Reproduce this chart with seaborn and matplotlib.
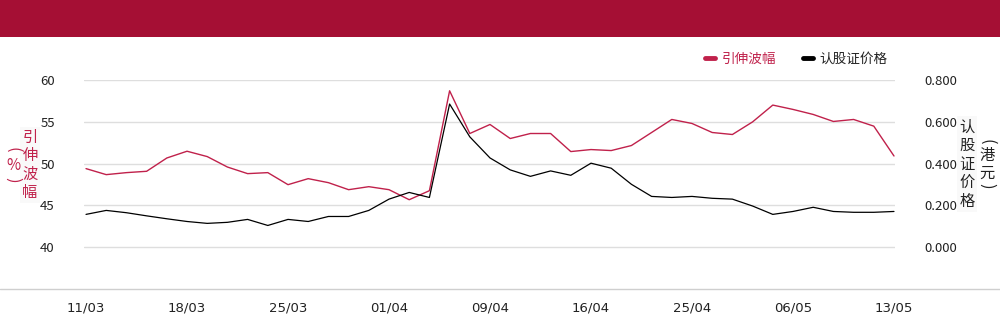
import matplotlib
matplotlib.use("Agg")
import matplotlib.pyplot as plt
from matplotlib.lines import Line2D
from matplotlib.patches import Rectangle
import seaborn as sns
import pandas as pd

# ---- data ----
tick_labels = ["11/03", "18/03", "25/03", "01/04", "09/04", "16/04", "25/04", "06/05", "13/05"]
implied_vol = [49.40, 48.68, 48.92, 49.08, 50.67, 51.48, 50.84, 49.59, 48.80, 48.92,
               47.48, 48.20, 47.72, 46.88, 47.24, 46.88, 45.68, 46.76, 58.71, 53.60,
               54.68, 53.00, 53.60, 53.60, 51.44, 51.68, 51.56, 52.16, 53.72, 55.28,
               54.80, 53.72, 53.48, 54.99, 57.00, 56.48, 55.88, 55.04, 55.28, 54.48,
               50.91]
warrant_price = [0.157, 0.176, 0.165, 0.150, 0.136, 0.123, 0.114, 0.119, 0.133, 0.104,
                 0.133, 0.123, 0.147, 0.147, 0.176, 0.230, 0.262, 0.238, 0.685, 0.528,
                 0.427, 0.370, 0.339, 0.365, 0.344, 0.402, 0.378, 0.301, 0.243, 0.238,
                 0.243, 0.234, 0.230, 0.197, 0.157, 0.171, 0.191, 0.171, 0.167, 0.167,
                 0.171]
left_ticks = [40, 45, 50, 55, 60]
right_ticks = [0.0, 0.2, 0.4, 0.6, 0.8]
series_names = ["引伸波幅", "认股证价格"]

RED = "#c0214b"
BAND = "#a50f34"

sns.set_theme(style="white")
plt.rcParams["font.family"] = ["Noto Sans CJK SC", "DejaVu Sans"]

df = pd.DataFrame({"idx": range(len(implied_vol)),
                   "vol": implied_vol, "price": warrant_price})

fig = plt.figure(figsize=(10, 3.24), dpi=100)
W, H = 1000, 324
ax = fig.add_axes([84 / W, 1 - 289 / H, (895 - 84) / W, (289 - 80) / H])
ax2 = ax.twinx()

sns.lineplot(data=df, x="idx", y="vol", ax=ax, color=RED, linewidth=1.0)
sns.lineplot(data=df, x="idx", y="price", ax=ax2, color="black", linewidth=0.9)

ax.set_xlim(-0.1, len(implied_vol) - 1 + 0.05)
ax.set_ylim(35, 60)
ax2.set_ylim(-0.2, 0.8)
ax.set_yticks(left_ticks)
ax.set_yticklabels([str(t) for t in left_ticks])
ax2.set_yticks(right_ticks)
ax2.set_yticklabels([f"{t:.3f}" for t in right_ticks])
ax.set_xticks(list(range(0, len(implied_vol), 5)))
ax.set_xticklabels(tick_labels, fontsize=9.5, color="#222222",
                   family=["Liberation Sans Narrow", "DejaVu Sans"])

for a in (ax, ax2):
    for s in a.spines.values():
        s.set_visible(False)
    a.set_xlabel("")
    a.set_ylabel("")
    a.tick_params(length=0)
ax.tick_params(axis="y", pad=21, labelsize=9.5, labelcolor="#222222")
ax2.tick_params(axis="y", pad=21, labelsize=9.5, labelcolor="#222222")
ax.tick_params(axis="x", pad=9)

ax.grid(axis="y", color="#dedede", linewidth=1.0)
ax.set_axisbelow(True)

# top band
fig.add_artist(Rectangle((0, 1 - 37 / H), 1, 37 / H, transform=fig.transFigure,
                         facecolor=BAND, edgecolor="none"))
# bottom rule
fig.add_artist(Line2D([0, 1], [1 - 289 / H, 1 - 289 / H], transform=fig.transFigure,
                      color="#cfcfcf", linewidth=1.0))

# legend
handles = [Line2D([], [], color=RED, linewidth=3.5),
           Line2D([], [], color="black", linewidth=3.5)]
leg = fig.legend(handles, series_names, loc="center right",
                 bbox_to_anchor=(900 / W, 1 - 59 / H), ncol=2, frameon=False,
                 fontsize=9.8, handlelength=0.7, handletextpad=0.5, columnspacing=2.0)
leg.get_texts()[0].set_color(RED)
leg.get_texts()[1].set_color("#222222")

# axis titles (vertical CJK)
box = dict(facecolor="#f9f9f9", edgecolor="none", pad=1.5)
fig.text(30 / W, 1 - 165 / H, "\n".join("引伸波幅"), color=RED, fontsize=11,
         ha="center", va="center", linespacing=1.1, bbox=box)
fig.text(13 / W, 1 - 150 / H, "(", color=RED, fontsize=12, rotation=-90,
         ha="center", va="center")
fig.text(13 / W, 1 - 165 / H, "%", color=RED, fontsize=11,
         ha="center", va="center")
fig.text(13 / W, 1 - 180 / H, ")", color=RED, fontsize=12, rotation=-90,
         ha="center", va="center")

fig.text(967 / W, 1 - 164 / H, "\n".join("认股证价格"), color="#222222", fontsize=11,
         ha="center", va="center", linespacing=1.12, bbox=box)
fig.text(987 / W, 1 - 142 / H, "(", color="#222222", fontsize=12, rotation=-90,
         ha="center", va="center")
fig.text(987 / W, 1 - 164 / H, "\n".join("港元"), color="#222222", fontsize=11,
         ha="center", va="center", linespacing=1.05)
fig.text(987 / W, 1 - 186 / H, ")", color="#222222", fontsize=12, rotation=-90,
         ha="center", va="center")

fig.savefig("out.png", dpi=100, facecolor="white")
